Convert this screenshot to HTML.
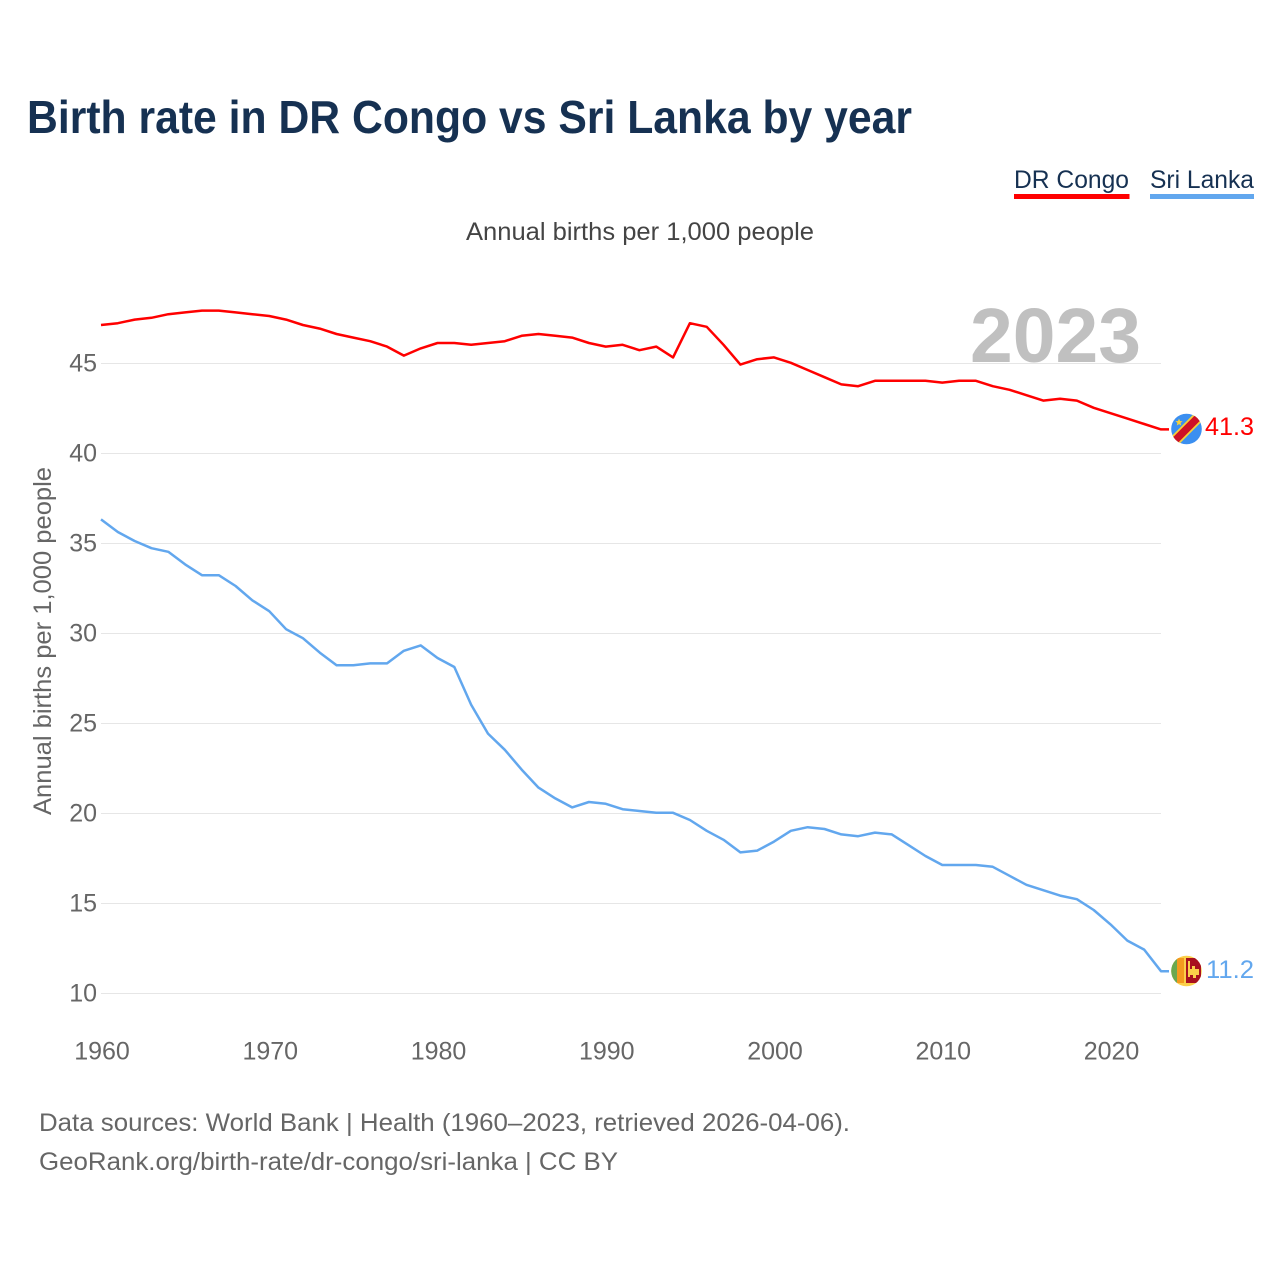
<!DOCTYPE html>
<html lang="en">
<head>
<meta charset="utf-8">
<title>Birth rate in DR Congo vs Sri Lanka by year</title>
<style>
html,body{margin:0;padding:0;background:#fff;width:1280px;height:1280px;overflow:hidden}
svg{display:block}
text{font-family:"Liberation Sans",sans-serif}
</style>
</head>
<body>
<svg id="chart" xmlns="http://www.w3.org/2000/svg" width="1280" height="1280" viewBox="0 0 1280 1280">
  <defs>
    <clipPath id="clip-cd"><circle cx="1186.500" cy="429" r="15.300"/></clipPath>
    <clipPath id="clip-lk"><circle cx="1186.500" cy="971" r="15.300"/></clipPath>
  </defs>
  <text x="27" y="133" font-size="46" font-weight="700" fill="#163152" textLength="885" lengthAdjust="spacingAndGlyphs">Birth rate in DR Congo vs Sri Lanka by year</text>

  <g>
    <g>
      <text x="1014" y="188" font-size="25" fill="#163152" textLength="115" lengthAdjust="spacingAndGlyphs">DR Congo</text>
      <rect x="1014" y="194" width="115.500" height="5" fill="#ff0000"/>
    </g>
    <g>
      <text x="1150" y="188" font-size="25" fill="#163152" textLength="104" lengthAdjust="spacingAndGlyphs">Sri Lanka</text>
      <rect x="1150" y="194" width="104" height="5" fill="#62a7ee"/>
    </g>
  </g>

  <text x="466" y="240" font-size="25" fill="#444444" textLength="348" lengthAdjust="spacingAndGlyphs">Annual births per 1,000 people</text>
  <text x="970" y="362" font-size="77" font-weight="700" fill="#c0c0c0" textLength="171" lengthAdjust="spacingAndGlyphs">2023</text>

  <g id="grid"></g>
  <g id="y-ticks"></g>
  <g id="x-ticks"></g>
  <text transform="translate(51,815) rotate(-90)" x="0" y="0" font-size="25" fill="#666666" textLength="348" lengthAdjust="spacingAndGlyphs">Annual births per 1,000 people</text>

  <g id="series"></g>

  <g clip-path="url(#clip-cd)">
    <rect x="1171" y="413" width="32" height="32" fill="#3b8ff0"/>
    <line x1="1168.500" y1="447" x2="1204.500" y2="411" stroke="#f7d038" stroke-width="11"/>
    <line x1="1168.500" y1="447" x2="1204.500" y2="411" stroke="#ce1126" stroke-width="7.500"/>
    <polygon points="1179,418.500 1180,421 1182.600,421.200 1180.600,422.900 1181.200,425.500 1179,424.100 1176.800,425.500 1177.400,422.900 1175.400,421.200 1178,421" fill="#f7d038"/>
  </g>
  <g clip-path="url(#clip-lk)">
    <rect x="1171" y="955" width="32" height="32" fill="#fbd04a"/>
    <rect x="1171" y="958" width="6" height="25" fill="#6aa84f"/>
    <rect x="1177" y="958" width="7" height="25" fill="#f39a1f"/>
    <rect x="1186" y="958" width="15" height="25" fill="#a8101f"/>
    <path d="M1188 961h2v16h-2z M1190 969h2v-3h3v3h4v6h-3v3h-3v-3h-3z" fill="#fbd04a"/>
  </g>

  <text x="1205" y="435" font-size="25" fill="#ff0000" textLength="49" lengthAdjust="spacingAndGlyphs">41.3</text>
  <text x="1206" y="978" font-size="25" fill="#62a7ee" textLength="48" lengthAdjust="spacingAndGlyphs">11.2</text>

  <text x="39" y="1131" font-size="25" fill="#666666" textLength="811" lengthAdjust="spacingAndGlyphs">Data sources: World Bank | Health (1960–2023, retrieved 2026-04-06).</text>
  <text x="39" y="1170" font-size="25" fill="#666666" textLength="579" lengthAdjust="spacingAndGlyphs">GeoRank.org/birth-rate/dr-congo/sri-lanka | CC BY</text>
</svg>
<script>
const startYear = 1960;
const yTickLabels = [10, 15, 20, 25, 30, 35, 40, 45];
const xTickLabels = [1960, 1970, 1980, 1990, 2000, 2010, 2020];
const drCongo = [47.1,47.2,47.4,47.5,47.7,47.8,47.9,47.9,47.8,47.7,47.6,47.4,47.1,46.9,46.6,46.4,46.2,45.9,45.4,45.8,46.1,46.1,46.0,46.1,46.2,46.5,46.6,46.5,46.4,46.1,45.9,46.0,45.7,45.9,45.3,47.2,47.0,46.0,44.9,45.2,45.3,45.0,44.6,44.2,43.8,43.7,44.0,44.0,44.0,44.0,43.9,44.0,44.0,43.7,43.5,43.2,42.9,43.0,42.9,42.5,42.2,41.9,41.6,41.3];
const sriLanka = [36.3,35.6,35.1,34.7,34.5,33.8,33.2,33.2,32.6,31.8,31.2,30.2,29.7,28.9,28.2,28.2,28.3,28.3,29.0,29.3,28.6,28.1,26.0,24.4,23.5,22.4,21.4,20.8,20.3,20.6,20.5,20.2,20.1,20.0,20.0,19.6,19.0,18.5,17.8,17.9,18.4,19.0,19.2,19.1,18.8,18.7,18.9,18.8,18.2,17.6,17.1,17.1,17.1,17.0,16.5,16.0,15.7,15.4,15.2,14.6,13.8,12.9,12.4,11.2];

const NS = 'http://www.w3.org/2000/svg';
function xScale(year) { return 101 + (year - 1960) * (1060 / 63); }
function yScale(v) { return 993.5 - (v - 10) * 18; }
const lineOffset = -0.7;

const grid = document.getElementById('grid');
const yTicks = document.getElementById('y-ticks');
yTickLabels.forEach(function (v) {
  const l = document.createElementNS(NS, 'line');
  
  
  l.setAttribute('x1', 101);
  l.setAttribute('x2', 1161);
  l.setAttribute('y1', yScale(v));
  l.setAttribute('y2', yScale(v));
  l.setAttribute('stroke', '#e6e6e6');
  l.setAttribute('stroke-width', 1);
  grid.appendChild(l);
  const t = document.createElementNS(NS, 'text');
  
  
  t.setAttribute('x', 97);
  t.setAttribute('y', yScale(v) + 8);
  t.setAttribute('text-anchor', 'end');
  t.setAttribute('font-size', 25);
  t.setAttribute('fill', '#666666');
  t.textContent = v;
  yTicks.appendChild(t);
});

const xTicks = document.getElementById('x-ticks');
xTickLabels.forEach(function (y) {
  const t = document.createElementNS(NS, 'text');
  
  
  t.setAttribute('x', xScale(y) + 1);
  t.setAttribute('y', 1059.5);
  t.setAttribute('text-anchor', 'middle');
  t.setAttribute('font-size', 25);
  t.setAttribute('fill', '#666666');
  t.textContent = y;
  xTicks.appendChild(t);
});

function drawSeries(values, color, name) {
  const pts = values.map(function (v, i) {
    return xScale(startYear + i).toFixed(2) + ',' + (yScale(v) + lineOffset).toFixed(2);
  });
  const last = values[values.length - 1];
  pts.push('1169,' + (yScale(last) + lineOffset).toFixed(2));
  const p = document.createElementNS(NS, 'polyline');
  
  
  p.setAttribute('points', pts.join(' '));
  p.setAttribute('fill', 'none');
  p.setAttribute('stroke', color);
  p.setAttribute('stroke-width', 2.5);
  p.setAttribute('stroke-linejoin', 'round');
  document.getElementById('series').appendChild(p);
}
drawSeries(drCongo, '#ff0000', 'line-dr-congo');
drawSeries(sriLanka, '#62a7ee', 'line-sri-lanka');
</script>
</body>
</html>
